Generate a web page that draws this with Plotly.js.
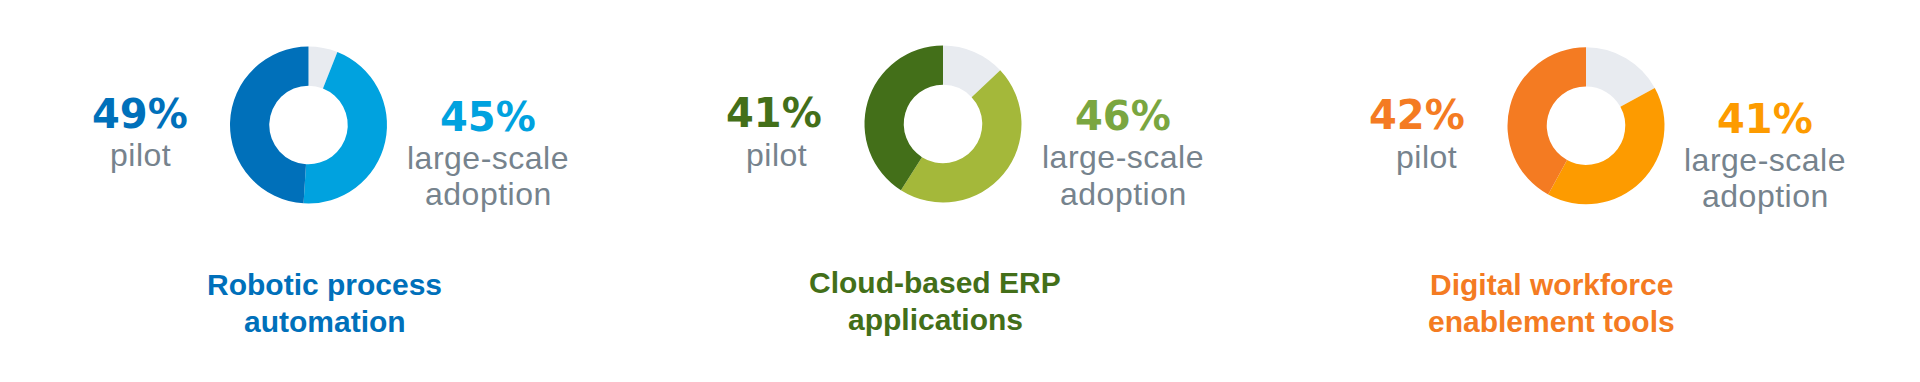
<!DOCTYPE html>
<html>
<head>
<meta charset="utf-8">
<script src="https://cdn.plot.ly/plotly-3.0.1.min.js"></script>
<style>html,body{margin:0;padding:0;background:#fff;}#chart{width:1920px;height:382px;}</style>
</head>
<body>
<div id="chart"></div>
<script>
// ---- data ----
const categories = ["Robotic process<br>automation", "Cloud-based ERP<br>applications", "Digital workforce<br>enablement tools"];
const pilot = [49, 41, 42];
const largeScale = [45, 46, 41];
const other = [6, 13, 17];
const pilotLabel = "pilot";
const largeLabel = ["large-scale", "adoption"];

// ---- styling ----
const W = 1920, H = 382;
const darkColors = ["#0070ba", "#436f19", "#f47b22"];
const lightColors = ["#00a2df", "#a4b83a", "#fd9b00"];
const largeTextColors = ["#00a2df", "#7aa640", "#fd9b00"];
const restColor = "#e8ebf0";
const grayText = "#76838d";
const TITLE_FONT = "Liberation Sans, Arial, sans-serif";
const LABEL_FONT = "Liberation Sans, Arial, sans-serif";
const PCT_FONT = "DejaVu Sans, sans-serif";
const PCT_SIZE = 40, LABEL_SIZE = 32, TITLE_SIZE = 30;

// donut centers/radius (px)
const centers = [[308.5, 125], [943, 124], [1586, 125.7]];
const R = 78.5;
const leftX = [140, 774, 1417];
const pilotX = [140, 776, 1426];
const rightX = [488, 1123, 1765];
const titleX = [324.5, 935, 1551];

const px = x => x / W;
const py = y => 1 - y / H;

const traces = categories.map((c, i) => ({
  type: "pie",
  values: [other[i], largeScale[i], pilot[i]],
  labels: ["other", "large-scale adoption", "pilot"],
  marker: {colors: [restColor, lightColors[i], darkColors[i]], line: {width: 0}},
  hole: 0.5,
  sort: false,
  direction: "clockwise",
  rotation: 0,
  textinfo: "none",
  hoverinfo: "label+value",
  showlegend: false,
  domain: {
    x: [px(centers[i][0] - R), px(centers[i][0] + R)],
    y: [py(centers[i][1] + R), py(centers[i][1] - R)]
  }
}));

// place text by its baseline (px); off = (ascent - descent)/2 in em
function ann(text, x, baseline, size, color, family, bold, off) {
  return {
    xref: "paper", yref: "paper", x: px(x), y: py(baseline - off * size),
    xanchor: "center", yanchor: "middle", showarrow: false, borderpad: 0,
    text: bold ? "<b>" + text + "</b>" : text,
    font: {family: family, size: size, color: color}
  };
}
const spaced = t => `<span style="letter-spacing:0.5px">${t}</span>`;

const annotations = [];
const leftPctBase = [127.8, 127.0, 129.0];
const pilotBase = [166.5, 166.0, 168.0];
const rightPctBase = [130.5, 129.5, 132.5];
const lsBase = [169, 168, 171];
const adBase = [205, 205, 207];
const t1Base = [295, 293, 295];
const t2Base = [332, 330, 332];
for (let i = 0; i < 3; i++) {
  annotations.push(ann(pilot[i] + "%", leftX[i], leftPctBase[i], PCT_SIZE, darkColors[i], PCT_FONT, true, 0.346));
  annotations.push(ann(spaced(pilotLabel), pilotX[i], pilotBase[i], LABEL_SIZE, grayText, LABEL_FONT, false, 0.3465));
  annotations.push(ann(largeScale[i] + "%", rightX[i], rightPctBase[i], PCT_SIZE, largeTextColors[i], PCT_FONT, true, 0.346));
  annotations.push(ann(spaced(largeLabel[0]), rightX[i], lsBase[i], LABEL_SIZE, grayText, LABEL_FONT, false, 0.3465));
  annotations.push(ann(spaced(largeLabel[1]), rightX[i], adBase[i], LABEL_SIZE, grayText, LABEL_FONT, false, 0.3465));
  const lines = categories[i].split("<br>");
  annotations.push(ann(lines[0], titleX[i], t1Base[i], TITLE_SIZE, darkColors[i], TITLE_FONT, true, 0.3465));
  annotations.push(ann(lines[1], titleX[i], t2Base[i], TITLE_SIZE, darkColors[i], TITLE_FONT, true, 0.3465));
}

const layout = {
  width: W, height: H,
  margin: {l: 0, r: 0, t: 0, b: 0},
  paper_bgcolor: "#ffffff",
  plot_bgcolor: "#ffffff",
  showlegend: false,
  annotations: annotations
};

Plotly.newPlot("chart", traces, layout, {displayModeBar: false, staticPlot: true});
</script>
</body>
</html>
